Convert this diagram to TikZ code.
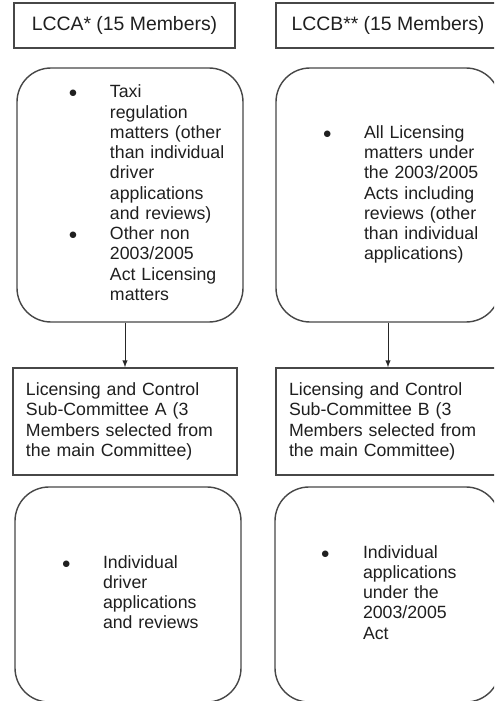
\documentclass[tikz,border=0pt]{standalone}
\usepackage{fontspec}
\setmainfont{Liberation Sans}

\tikzset{
  box/.style={draw=black!72, line width=1pt, text=black!88},
  hdrbox/.style={box, inner sep=0pt, minimum width=#1, minimum height=1.125cm,
    font=\fontsize{13.8pt}{16pt}\selectfont},
  subbox/.style={box, inner xsep=0.325cm, inner ysep=0pt, text width=#1,
    minimum height=2.675cm, align=left, font=\fontsize{12.6pt}{14.4pt}\selectfont},
  roundbox/.style={box, rounded corners=0.85cm, inner sep=0pt, text width=#1,
    minimum height=6.35cm, align=left, font=\fontsize{12.6pt}{14.4pt}\selectfont},
  lowbox/.style={roundbox=#1, minimum height=5.375cm},
  arr/.style={-latex, black!85, line width=0.7pt}
}
\newcommand{\dotitem}{$\bullet$}

\begin{document}
\begin{tikzpicture}

\clip (0,0) rectangle (12.35,-17.525);
\fill[white] (0,0) rectangle (12.35,-17.525);

% left column
\node[hdrbox=5.525cm] (hdrA) at (3.1125,-0.6375) {LCCA* (15 Members)};

\node[roundbox=5.65cm] (topA) at (3.25,-4.875) {\noindent
\begin{tabular}{@{\hspace{1.3cm}}p{1.025cm}@{}l@{}}
\dotitem & Taxi\\
 & regulation\\
 & matters (other\\
 & than individual\\
 & driver\\
 & applications\\
 & and reviews)\\
\dotitem & Other non\\
 & 2003/2005\\
 & Act Licensing\\
 & matters
\end{tabular}};

\node[subbox=4.95cm] (subA) at (3.125,-10.5375) {Licensing and Control\\
Sub-Committee A (3\\
Members selected from\\
the main Committee)};

\node[lowbox=5.65cm] (botA) at (3.2,-14.8625) {\noindent
\begin{tabular}{@{\hspace{1.175cm}}p{1.025cm}@{}l@{}}
\dotitem & Individual\\
 & driver\\
 & applications\\
 & and reviews
\end{tabular}};

% right column
\node[hdrbox=5.6cm] (hdrB) at (9.7,-0.6375) {LCCB** (15 Members)};

\node[roundbox=5.6cm] (topB) at (9.7,-4.875) {\noindent
\begin{tabular}{@{\hspace{1.175cm}}p{1.025cm}@{}l@{}}
\dotitem & All Licensing\\
 & matters under\\
 & the 2003/2005\\
 & Acts including\\
 & reviews (other\\
 & than individual\\
 & applications)
\end{tabular}};

\node[subbox=4.95cm] (subB) at (9.7,-10.5375) {Licensing and Control\\
Sub-Committee B (3\\
Members selected from\\
the main Committee)};

\node[lowbox=5.625cm] (botB) at (9.6875,-14.8625) {\noindent
\begin{tabular}{@{\hspace{1.15cm}}p{1.05cm}@{}l@{}}
\dotitem & Individual\\
 & applications\\
 & under the\\
 & 2003/2005\\
 & Act
\end{tabular}};

\draw[arr] (topA.south -| subA.north) -- (subA.north);
\draw[arr] (topB.south) -- (subB.north);

\end{tikzpicture}
\end{document}
